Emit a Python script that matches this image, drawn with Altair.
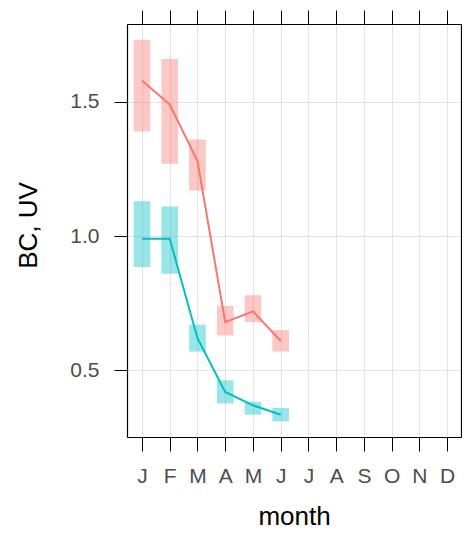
import altair as alt
import pandas as pd

months = [1, 2, 3, 4, 5, 6]
month_letters = ["J", "F", "M", "A", "M", "J", "J", "A", "S", "O", "N", "D"]

bc_mean = [1.58, 1.49, 1.28, 0.68, 0.72, 0.61]
bc_lower = [1.39, 1.27, 1.17, 0.63, 0.68, 0.57]
bc_upper = [1.73, 1.66, 1.36, 0.74, 0.78, 0.65]

uv_mean = [0.99, 0.99, 0.62, 0.42, 0.37, 0.335]
uv_lower = [0.885, 0.86, 0.57, 0.377, 0.335, 0.31]
uv_upper = [1.13, 1.11, 0.67, 0.463, 0.383, 0.36]

series = ["BC", "UV"]
colors = ["#F8766D", "#00BFC4"]

rows = []
for name, m, lo, hi in [("BC", bc_mean, bc_lower, bc_upper), ("UV", uv_mean, uv_lower, uv_upper)]:
    for i, mo in enumerate(months):
        rows.append({"series": name, "month": mo, "mean": m[i], "lower": lo[i], "upper": hi[i]})
df = pd.DataFrame(rows)

label_expr = "[" + ",".join("'%s'" % l for l in month_letters) + "][datum.value - 1]"

xscale = alt.Scale(domain=[0.46, 12.5], nice=False, zero=False)
yscale = alt.Scale(domain=[0.252, 1.79], nice=False, zero=False)
cscale = alt.Scale(domain=series, range=colors)

x_axis = alt.Axis(values=list(range(1, 13)), labelExpr=label_expr, title="month",
                  tickSize=14, tickColor="black", labelPadding=14, labelFontSize=21,
                  labelColor="#4D4D4D", labelFont="Liberation Sans",
                  titleFont="Liberation Sans", titleFontSize=26, titleFontWeight="normal",
                  titleColor="black", titleBaseline="alphabetic", titleX=167, titleY=87,
                  domain=True, domainColor="black", domainWidth=1.2,
                  grid=True, gridColor="#E3E3E3", gridWidth=1)
y_axis = alt.Axis(values=[0.5, 1.0, 1.5], format=".1f", title="BC, UV",
                  tickSize=13, tickColor="black", labelPadding=15, labelFontSize=21,
                  labelColor="#4D4D4D", labelFont="Liberation Sans",
                  titleFont="Liberation Sans", titleFontSize=26, titleFontWeight="normal",
                  titleColor="black", titleBaseline="alphabetic", titleAngle=-90,
                  titleX=-91, titleY=201,
                  domain=True, domainColor="black", domainWidth=1.2,
                  grid=True, gridColor="#E3E3E3", gridWidth=1)

base = alt.Chart(df)

rects = base.transform_calculate(
    x1="datum.month - 0.3", x2="datum.month + 0.3"
).mark_rect(opacity=0.4).encode(
    x=alt.X("x1:Q", scale=xscale, axis=x_axis),
    x2="x2:Q",
    y=alt.Y("lower:Q", scale=yscale, axis=y_axis),
    y2="upper:Q",
    color=alt.Color("series:N", scale=cscale, legend=None),
)

lines = base.mark_line(strokeWidth=2).encode(
    x=alt.X("month:Q", scale=xscale, axis=None),
    y=alt.Y("mean:Q", scale=yscale, axis=None),
    color=alt.Color("series:N", scale=cscale, legend=None),
    detail="series:N",
)

# top and right tick-only axes (frame)
top_ticks = base.mark_point(opacity=0).encode(
    x=alt.X("month:Q", scale=xscale,
            axis=alt.Axis(orient="top", values=list(range(1, 13)), labels=False, title=None,
                          tickSize=14, tickColor="black", domain=True, domainColor="black",
                          domainWidth=1.2, grid=False)),
    y=alt.Y("mean:Q", scale=yscale,
            axis=alt.Axis(orient="right", values=[0.5, 1.0, 1.5], labels=False, title=None,
                          tickSize=13, tickColor="black", domain=True, domainColor="black",
                          domainWidth=1.2, grid=False)),
)

chart = alt.layer(rects, lines, top_ticks).resolve_axis(x="independent", y="independent").properties(
    width=334, height=413,
    autosize=alt.AutoSizeParams(type="none"),
    padding={"left": 119, "top": 16, "right": 1, "bottom": 94},
).configure_view(stroke=None).configure(background="white")

chart.save("out.html", embed_options={"renderer": "svg", "actions": False})
